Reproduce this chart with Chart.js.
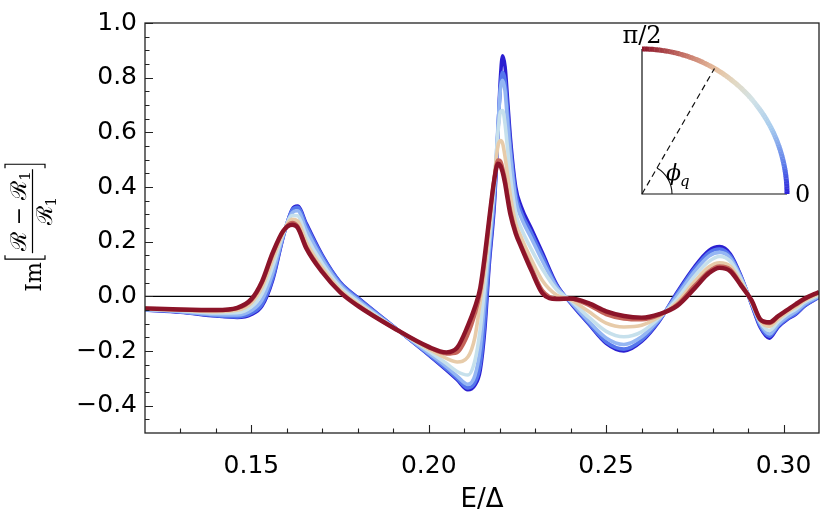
<!DOCTYPE html>
<html><head><meta charset="utf-8">
<script src="https://cdn.jsdelivr.net/npm/chart.js@4.4.1/dist/chart.umd.min.js"></script>
<style>html,body{margin:0;padding:0;background:#fff;} canvas{display:block;}</style>
</head><body>
<canvas id="c" width="830" height="522"></canvas>
<script>
// ---- data ----
const xValues = [0.120,0.130,0.140,0.146,0.150,0.153,0.156,0.159,0.1615,0.163,0.1655,0.170,0.175,0.180,0.190,0.200,0.205,0.208,0.211,0.213,0.2145,0.2158,0.217,0.2185,0.2195,0.2202,0.2208,0.2215,0.2222,0.223,0.2245,0.226,0.229,0.232,0.236,0.240,0.245,0.250,0.255,0.260,0.265,0.270,0.275,0.279,0.282,0.285,0.288,0.291,0.2935,0.296,0.2985,0.301,0.3035,0.306,0.310];

const phi0 = [-0.050,-0.058,-0.072,-0.077,-0.066,-0.035,0.060,0.220,0.318,0.330,0.265,0.150,0.052,-0.005,-0.110,-0.215,-0.270,-0.305,-0.342,-0.325,-0.270,-0.120,0.110,0.340,0.600,0.800,0.880,0.840,0.720,0.580,0.400,0.330,0.245,0.160,0.045,-0.025,-0.100,-0.172,-0.200,-0.165,-0.090,0.015,0.110,0.168,0.182,0.155,0.075,-0.030,-0.115,-0.153,-0.112,-0.085,-0.065,-0.035,-0.003];
const phi15 = [-0.050,-0.057,-0.071,-0.075,-0.062,-0.029,0.067,0.221,0.316,0.326,0.259,0.146,0.050,-0.007,-0.110,-0.213,-0.266,-0.300,-0.335,-0.315,-0.250,-0.090,0.130,0.360,0.610,0.770,0.820,0.790,0.680,0.550,0.378,0.310,0.230,0.148,0.040,-0.022,-0.097,-0.167,-0.193,-0.160,-0.087,0.010,0.103,0.160,0.173,0.148,0.072,-0.028,-0.110,-0.146,-0.108,-0.082,-0.062,-0.033,-0.002];
const phi30 = [-0.049,-0.056,-0.067,-0.068,-0.052,-0.013,0.085,0.225,0.306,0.313,0.243,0.135,0.043,-0.013,-0.111,-0.208,-0.258,-0.292,-0.322,-0.290,-0.190,-0.010,0.170,0.390,0.620,0.760,0.790,0.750,0.640,0.520,0.352,0.290,0.210,0.130,0.035,-0.020,-0.090,-0.152,-0.176,-0.148,-0.083,0.003,0.092,0.147,0.161,0.140,0.068,-0.025,-0.102,-0.138,-0.103,-0.076,-0.056,-0.028,0.000];
const phi45 = [-0.047,-0.053,-0.061,-0.060,-0.038,0.010,0.110,0.230,0.296,0.295,0.220,0.119,0.034,-0.020,-0.113,-0.200,-0.246,-0.275,-0.288,-0.235,-0.120,0.045,0.205,0.420,0.600,0.675,0.680,0.630,0.540,0.440,0.305,0.250,0.170,0.100,0.025,-0.015,-0.075,-0.128,-0.148,-0.130,-0.078,-0.010,0.075,0.128,0.146,0.128,0.062,-0.022,-0.095,-0.125,-0.093,-0.066,-0.046,-0.021,0.005];
const phi60 = [-0.046,-0.051,-0.056,-0.051,-0.024,0.033,0.135,0.235,0.282,0.276,0.198,0.104,0.024,-0.028,-0.114,-0.193,-0.227,-0.240,-0.222,-0.150,-0.020,0.100,0.240,0.440,0.550,0.570,0.560,0.510,0.445,0.370,0.268,0.217,0.132,0.058,0.005,-0.012,-0.055,-0.098,-0.112,-0.106,-0.074,-0.022,0.055,0.108,0.123,0.110,0.052,-0.020,-0.090,-0.110,-0.083,-0.058,-0.038,-0.015,0.009];
const phi75 = [-0.044,-0.049,-0.051,-0.044,-0.014,0.049,0.153,0.239,0.270,0.257,0.181,0.092,0.017,-0.033,-0.115,-0.187,-0.210,-0.205,-0.140,-0.065,0.015,0.135,0.270,0.435,0.498,0.495,0.470,0.428,0.372,0.314,0.238,0.188,0.102,0.022,-0.008,-0.009,-0.032,-0.066,-0.082,-0.085,-0.068,-0.030,0.040,0.092,0.110,0.098,0.044,-0.017,-0.086,-0.099,-0.075,-0.052,-0.031,-0.010,0.014];
const phi90 = [-0.044,-0.048,-0.050,-0.042,-0.010,0.055,0.160,0.240,0.262,0.252,0.175,0.088,0.015,-0.035,-0.115,-0.185,-0.205,-0.188,-0.108,-0.040,0.030,0.150,0.280,0.430,0.485,0.478,0.455,0.413,0.358,0.300,0.230,0.182,0.092,0.012,-0.010,-0.008,-0.025,-0.055,-0.072,-0.078,-0.065,-0.035,0.030,0.085,0.104,0.092,0.040,-0.015,-0.085,-0.095,-0.072,-0.050,-0.028,-0.008,0.016];

const seriesNames = ['φq=0','φq=π/12','φq=π/6','φq=π/4','φq=π/3','φq=5π/12','φq=π/2'];
const seriesValues = [phi0, phi15, phi30, phi45, phi60, phi75, phi90];
const seriesColors = ['#2b1fd1','#5576ec','#94b6f3','#c6e0ec','#e7cba9','#c5645a','#8c1429'];
const seriesWidths = [3.6,3.6,3.6,3.6,3.6,3.8,4.4];

const xTickValues = [0.15,0.20,0.25,0.30];
const xTickLabels = ['0.15','0.20','0.25','0.30'];
const xMinorTicks = [0.13,0.14,0.16,0.17,0.18,0.19,0.21,0.22,0.23,0.24,0.26,0.27,0.28,0.29];
const yTickValues = [-0.4,-0.2,0,0.2,0.4,0.6,0.8,1.0];
const yTickLabels = ['\u22120.4','\u22120.2','0.0','0.2','0.4','0.6','0.8','1.0'];
const yMinorTicks = [-0.45,-0.35,-0.3,-0.25,-0.15,-0.1,-0.05,0.05,0.1,0.15,0.25,0.3,0.35,0.45,0.5,0.55,0.65,0.7,0.75,0.85,0.9,0.95];

const arcStops = [[0,'#2a1fd8'],[0.12,'#5a78ea'],[0.3,'#a6cbee'],[0.45,'#d2e2e6'],[0.56,'#e2d8c2'],[0.66,'#e6bf9f'],[0.8,'#c8786a'],[1,'#8c1429']];

// ---- chart ----
const serif = '"DejaVu Serif","Liberation Serif",serif';
const sans = '"DejaVu Sans",sans-serif';

function hexToRgb(h){return [parseInt(h.slice(1,3),16),parseInt(h.slice(3,5),16),parseInt(h.slice(5,7),16)];}
function arcColor(t){
  for(let i=1;i<arcStops.length;i++){
    if(t<=arcStops[i][0]){
      const [t0,c0]=arcStops[i-1],[t1,c1]=arcStops[i];
      const f=(t-t0)/(t1-t0), a=hexToRgb(c0), b=hexToRgb(c1);
      return `rgb(${a.map((v,k)=>Math.round(v+(b[k]-v)*f)).join(',')})`;
    }
  }
  return arcStops[arcStops.length-1][1];
}

const deco = {
  id:'deco',
  beforeDatasetsDraw(chart){
    const {ctx, chartArea:a, scales:{y}} = chart;
    const y0 = y.getPixelForValue(0);
    ctx.save(); ctx.strokeStyle='#000'; ctx.lineWidth=1.2;
    ctx.beginPath(); ctx.moveTo(a.left,y0); ctx.lineTo(a.right,y0); ctx.stroke(); ctx.restore();
  },
  afterDatasetsDraw(chart){
    const {ctx, chartArea:a, scales:{x,y}} = chart;
    ctx.save();
    ctx.strokeStyle='#222'; ctx.lineWidth=1.3;
    ctx.strokeRect(a.left, a.top, a.right-a.left, a.bottom-a.top);
    ctx.lineWidth=1.1; ctx.strokeStyle='#222';
    ctx.beginPath();
    xTickValues.forEach(v=>{const p=Math.round(x.getPixelForValue(v))+0.5; ctx.moveTo(p,a.bottom); ctx.lineTo(p,a.bottom-8);});
    xMinorTicks.forEach(v=>{const p=Math.round(x.getPixelForValue(v))+0.5; ctx.moveTo(p,a.bottom); ctx.lineTo(p,a.bottom-4.5);});
    yTickValues.forEach(v=>{const p=Math.round(y.getPixelForValue(v))+0.5; ctx.moveTo(a.left,p); ctx.lineTo(a.left+8,p);});
    yMinorTicks.forEach(v=>{const p=Math.round(y.getPixelForValue(v))+0.5; ctx.moveTo(a.left,p); ctx.lineTo(a.left+4.5,p);});
    ctx.stroke();
    ctx.restore();
  },
  afterDraw(chart){
    const {ctx, chartArea:a} = chart;
    ctx.save();
    ctx.fillStyle='#000';
    ctx.font = `26px ${sans}`; ctx.textAlign='center'; ctx.textBaseline='alphabetic';
    ctx.fillText('E/\u0394', (a.left+a.right)/2, 507);
    ctx.save();
    ctx.translate(32, 227);
    ctx.rotate(-Math.PI/2);
    ctx.textAlign='left';
    const fs=22;
    ctx.font = `${fs}px ${serif}`;
    const wIm = ctx.measureText('Im').width;
    const wR = ctx.measureText('\u211B').width;
    const wM = ctx.measureText(' \u2212 ').width;
    ctx.font = `15px ${serif}`;
    const w1 = ctx.measureText('1').width;
    const numW = wR + wM + wR + w1;
    const denW = wR + w1;
    const fracW = numW + 4;
    const brW = 7;
    const total = wIm + 2 + brW + fracW + brW;
    let u = -total/2;
    ctx.font = `${fs}px ${serif}`;
    ctx.fillText('Im', u, 9); u += wIm + 2;
    ctx.lineWidth=1.2; ctx.strokeStyle='#000';
    ctx.beginPath(); ctx.moveTo(u+5,-27); ctx.lineTo(u+1,-27); ctx.lineTo(u+1,13); ctx.lineTo(u+5,13); ctx.stroke();
    u += brW;
    const fx = u;
    let nu = fx + (fracW-numW)/2;
    ctx.font = `${fs}px ${serif}`;
    ctx.fillText('\u211B', nu, -6); nu += wR;
    ctx.fillText(' \u2212 ', nu, -6); nu += wM;
    ctx.fillText('\u211B', nu, -6); nu += wR;
    ctx.font = `15px ${serif}`; ctx.fillText('1', nu, -2);
    ctx.beginPath(); ctx.moveTo(fx, 0.5); ctx.lineTo(fx+fracW, 0.5); ctx.stroke();
    let du = fx + (fracW-denW)/2;
    ctx.font = `${fs}px ${serif}`; ctx.fillText('\u211B', du, 20); du += wR;
    ctx.font = `15px ${serif}`; ctx.fillText('1', du, 24);
    u = fx + fracW + 1;
    ctx.beginPath(); ctx.moveTo(u,-27); ctx.lineTo(u+4,-27); ctx.lineTo(u+4,13); ctx.lineTo(u,13); ctx.stroke();
    ctx.restore();

    const ox = 642, oy = 194, r = 145;
    ctx.strokeStyle='#111'; ctx.lineWidth=1.2;
    ctx.beginPath(); ctx.moveTo(ox, oy-r); ctx.lineTo(ox, oy); ctx.lineTo(ox+r, oy); ctx.stroke();
    const nSeg = 90;
    ctx.lineWidth = 5; ctx.lineCap='butt';
    for(let i=0;i<nSeg;i++){
      const t0=i/nSeg, t1=(i+1.15)/nSeg;
      ctx.strokeStyle = arcColor((i+0.5)/nSeg);
      ctx.beginPath();
      ctx.arc(ox, oy, r, -t0*Math.PI/2, -Math.min(t1,1)*Math.PI/2, true);
      ctx.stroke();
    }
    const ang = 60*Math.PI/180;
    ctx.strokeStyle='#111'; ctx.lineWidth=1.2; ctx.setLineDash([6,4]);
    ctx.beginPath(); ctx.moveTo(ox,oy); ctx.lineTo(ox+r*Math.cos(ang), oy-r*Math.sin(ang)); ctx.stroke();
    ctx.setLineDash([]);
    ctx.lineWidth=1.1;
    ctx.beginPath(); ctx.arc(ox, oy, 30, 0, -ang, true); ctx.stroke();
    ctx.fillStyle='#000'; ctx.textAlign='center';
    ctx.font = `24px ${serif}`;
    ctx.fillText('\u03C0/2', ox, 43);
    ctx.textAlign='left';
    ctx.font = `24px ${serif}`;
    ctx.fillText('0', ox+r+8, 202);
    ctx.font = `italic 22px ${serif}`;
    ctx.fillText('\u03D5', 666, 180);
    ctx.font = `italic 15px ${serif}`;
    ctx.fillText('q', 680, 186);
    ctx.restore();
  }
};

const datasets = seriesValues.map((vals,i)=>({
  label: seriesNames[i],
  data: xValues.map((xv,k)=>({x:xv, y:vals[k]})),
  borderColor: seriesColors[i],
  backgroundColor: seriesColors[i],
  borderWidth: seriesWidths[i],
  pointRadius: 0,
  fill: false,
  cubicInterpolationMode: 'monotone',
  order: seriesValues.length - i
}));

new Chart(document.getElementById('c'), {
  type: 'line',
  data: { datasets },
  options: {
    responsive: false,
    animation: false,
    events: [],
    layout: { padding: { left: 0, right: 11, top: 17, bottom: 0 } },
    plugins: { legend: { display: false }, tooltip: { enabled: false } },
    scales: {
      x: {
        type: 'linear', min: 0.12, max: 0.31,
        grid: { display: false, drawTicks: false },
        border: { display: false },
        afterBuildTicks: s => { s.ticks = xTickValues.map(v=>({value:v})); },
        afterFit: s => { s.height = 89; },
        ticks: {
          autoSkip: false, maxRotation: 0, padding: 18, color: '#000',
          font: { family: 'DejaVu Sans', size: 25 },
          callback: (v) => { const i = xTickValues.findIndex(t=>Math.abs(t-v)<1e-9); return i>=0 ? xTickLabels[i] : ''; }
        }
      },
      y: {
        type: 'linear', min: -0.5, max: 1.0,
        grid: { display: false, drawTicks: false },
        border: { display: false },
        afterBuildTicks: s => { s.ticks = yTickValues.map(v=>({value:v})); },
        afterFit: s => { s.width = 145; },
        ticks: {
          autoSkip: false, padding: 8, color: '#000',
          font: { family: 'DejaVu Sans', size: 25 },
          callback: (v) => { const i = yTickValues.findIndex(t=>Math.abs(t-v)<1e-9); return i>=0 ? yTickLabels[i] : ''; }
        }
      }
    }
  },
  plugins: [deco]
});
</script>
</body></html>
